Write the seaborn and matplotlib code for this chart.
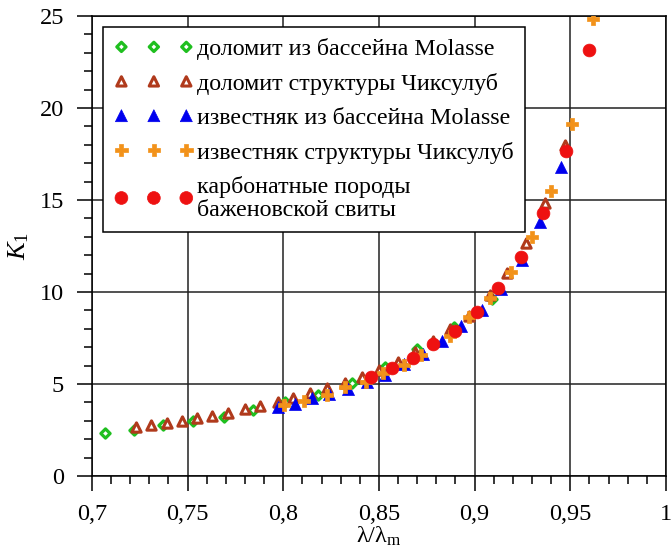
import matplotlib
matplotlib.use("Agg")
import matplotlib.pyplot as plt
import seaborn as sns
import numpy as np
import pandas as pd
from matplotlib.ticker import MultipleLocator, FuncFormatter

# ---- data ----
dol_mol_x = [0.707, 0.722, 0.737, 0.753, 0.769, 0.784, 0.801, 0.818, 0.836, 0.853, 0.870, 0.889, 0.909]
dol_mol_y = [2.35, 2.50, 2.77, 2.99, 3.22, 3.59, 4.04, 4.40, 5.07, 5.94, 6.90, 8.10, 9.60]

dol_chx_x = [0.723, 0.731, 0.739, 0.747, 0.755, 0.763, 0.771, 0.780, 0.788, 0.797, 0.805, 0.814, 0.823,
             0.832, 0.841, 0.850, 0.860, 0.869, 0.878, 0.887, 0.897, 0.908, 0.917, 0.927, 0.937, 0.947]
dol_chx_y = [2.65, 2.77, 2.90, 3.01, 3.13, 3.26, 3.44, 3.62, 3.80, 4.00, 4.22, 4.49, 4.77,
             5.07, 5.36, 5.76, 6.21, 6.76, 7.35, 8.00, 8.70, 9.84, 11.05, 12.65, 14.82, 18.00]

lim_mol_x = [0.797, 0.806, 0.815, 0.824, 0.834, 0.844, 0.853, 0.863, 0.873, 0.883, 0.893, 0.904, 0.914,
             0.925, 0.934, 0.945]
lim_mol_y = [3.73, 3.91, 4.22, 4.46, 4.75, 5.12, 5.49, 6.07, 6.63, 7.35, 8.15, 9.02, 10.15,
             11.74, 13.82, 16.81]

lim_chx_x = [0.8005, 0.811, 0.823, 0.832, 0.843, 0.852, 0.863, 0.872, 0.887, 0.897, 0.908, 0.919,
             0.930, 0.940, 0.951, 0.962]
lim_chx_y = [3.86, 4.09, 4.40, 4.85, 5.13, 5.58, 6.03, 6.58, 7.61, 8.62, 9.66, 11.07,
             13.00, 15.50, 19.13, 24.82]

bazh_x = [0.8456, 0.8566, 0.8676, 0.8783, 0.8897, 0.901, 0.9123, 0.924, 0.9355, 0.9476, 0.9597]
bazh_y = [5.38, 5.85, 6.40, 7.15, 7.90, 8.93, 10.20, 11.92, 14.28, 17.68, 23.15]

labels = ["доломит из бассейна Molasse",
          "доломит структуры Чиксулуб",
          "известняк из бассейна Molasse",
          "известняк структуры Чиксулуб",
          "карбонатные породы\nбаженовской свиты"]

x_ticks = [0.7, 0.75, 0.8, 0.85, 0.9, 0.95, 1.0]
y_ticks = [0, 5, 10, 15, 20, 25]

# ---- style ----
sns.set_theme(style="white")
plt.rcParams['font.family'] = ['Liberation Serif', 'DejaVu Serif']
plt.rcParams['mathtext.fontset'] = 'custom'
plt.rcParams['mathtext.rm'] = 'Liberation Serif'
plt.rcParams['mathtext.it'] = 'Liberation Serif:italic'

fig = plt.figure(figsize=(6.71, 5.59), dpi=100)
ax = fig.add_axes([0.137, 0.1485, 0.8555, 0.8229])

series = [
    (dol_mol_x, dol_mol_y, dict(marker='D', s=22, facecolor='white', edgecolor='#1fbf1f', linewidth=2.3)),
    (dol_chx_x, dol_chx_y, dict(marker='^', s=45, facecolor='white', edgecolor='#b03a1c', linewidth=2.2)),
    (lim_mol_x, lim_mol_y, dict(marker='^', s=75, color='#0000ee', edgecolor='#0000ee', linewidth=0.5)),
    (lim_chx_x, lim_chx_y, dict(marker='P', s=80, color='#f2921a', edgecolor='#f2921a', linewidth=0.5)),
    (bazh_x, bazh_y, dict(marker='o', s=85, color='#ee1111', edgecolor='#ee1111', linewidth=0.5)),
]
for (xs, ys, kw), lab in zip(series, labels):
    df = pd.DataFrame({'x': xs, 'y': ys})
    sns.scatterplot(data=df, x='x', y='y', ax=ax, label=lab, zorder=3, **kw)

ax.set_xlim(0.7, 1.0)
ax.set_ylim(0, 25)
ax.set_xticks(x_ticks)
ax.set_yticks(y_ticks)
ax.xaxis.set_minor_locator(MultipleLocator(0.01))
ax.yaxis.set_minor_locator(MultipleLocator(1))
fmt = FuncFormatter(lambda v, p: ('%g' % round(v, 3)).replace('.', ','))
ax.xaxis.set_major_formatter(fmt)
ax.yaxis.set_major_formatter(fmt)

ax.grid(True, which='major', color='#222222', linewidth=1.1)
ax.set_axisbelow(True)
for sp in ax.spines.values():
    sp.set_color('black')
    sp.set_linewidth(1.1)

ax.tick_params(axis='both', which='major', direction='out', length=11, width=1.1,
               color='black', labelsize=17.5, labelcolor='black', pad=9,
               bottom=True, left=True, top=False, right=False)
ax.tick_params(axis='both', which='minor', direction='out', length=6, width=1.1,
               color='black', bottom=True, left=True, top=False, right=False)

ax.set_xlabel(r'λ/λ$_{\rm m}$', fontsize=17.5, color='black', labelpad=0)
ax.set_ylabel(r'$K_1$', fontsize=19, color='black', labelpad=6)

leg = ax.legend(loc='upper left', bbox_to_anchor=(0.02, 0.975), fontsize=17.3,
                scatterpoints=3, scatteryoffsets=[0.5], handlelength=3.3, handletextpad=0.15,
                borderpad=0.45, labelspacing=0.52, fancybox=False, framealpha=1,
                edgecolor='black', borderaxespad=0)
leg.get_frame().set_linewidth(1.1)
for t in leg.get_texts():
    t.set_color('black')
    t.set_linespacing(1.1)

fig.savefig('out.png', dpi=100)
